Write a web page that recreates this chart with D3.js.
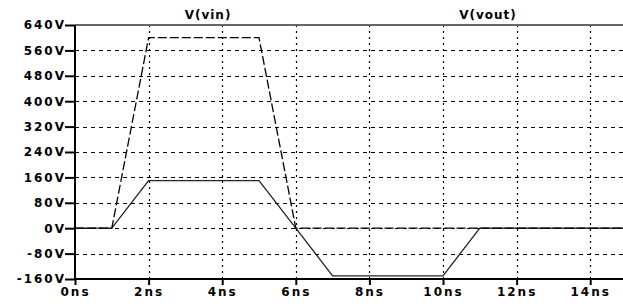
<!DOCTYPE html>
<html>
<head>
<meta charset="utf-8">
<script src="https://cdn.jsdelivr.net/npm/d3@7"></script>
<style>
  body { margin: 0; background: #fff; }
  text { font-family: "DejaVu Sans", sans-serif; font-weight: bold; font-size: 12px; letter-spacing: 2px; fill: #000; }
</style>
</head>
<body>
<div id="chart"></div>
<script>
// waveform samples (ns, V)
const timeNs = [0, 1, 2, 5, 6, 7, 10, 11, 15];
const vin = [0, 0, 600, 600, 0, 0, 0, 0, 0];
const vout = [0, 0, 150, 150, 0, -150, -150, 0, 0];
const yTicks = [640, 560, 480, 400, 320, 240, 160, 80, 0, -80, -160];
const xTicks = [0, 2, 4, 6, 8, 10, 12, 14];
const titles = ["V(vin)", "V(vout)"];

function canvas() {
    const width = 623, height = 304;
    const svg = d3.select("#chart").append("svg")
        .attr("width", width)
        .attr("height", height);

    const xScale = d3.scaleLinear().domain([0, 15]).range([75, 627]);
    const yScale = d3.scaleLinear().domain([-160, 640]).range([279, 25]);
    return { svg, xScale, yScale, width };
}

function drawGrid(svg, xScale, yScale, width) {
    // horizontal dashed grid
    svg.selectAll(".hgrid")
        .data(yTicks.filter(v => v > -160 && v < 640))
        .enter().append("line")
        .attr("x1", xScale(0)).attr("x2", width)
        .attr("y1", d => Math.round(yScale(d)) + 0.5)
        .attr("y2", d => Math.round(yScale(d)) + 0.5)
        .attr("stroke", "#000").attr("stroke-width", 1)
        .attr("stroke-dasharray", "4,4");

    // vertical dotted grid
    svg.selectAll(".vgrid")
        .data(xTicks.filter(t => t > 0))
        .enter().append("line")
        .attr("x1", d => Math.round(xScale(d)) + 0.5)
        .attr("x2", d => Math.round(xScale(d)) + 0.5)
        .attr("y1", yScale(640)).attr("y2", yScale(-160))
        .attr("stroke", "#000").attr("stroke-width", 1.2)
        .attr("stroke-dasharray", "2,4");

    // top border at 640V
    svg.append("line")
        .attr("x1", xScale(0)).attr("x2", width)
        .attr("y1", yScale(640)).attr("y2", yScale(640))
        .attr("stroke", "#666").attr("stroke-width", 2);
}

function drawAxes(svg, xScale, yScale, width) {
    const y0 = yScale(-160);
    const x0 = xScale(0);

    const yAxis = svg.append("g")
        .attr("transform", "translate(" + x0 + ",0)")
        .call(d3.axisLeft(yScale).tickValues(yTicks).tickSize(10).tickPadding(-1)
            .tickFormat(d => d + "V"));
    yAxis.select(".domain").remove();
    yAxis.selectAll(".tick line").attr("stroke-width", 2);

    const xAxis = svg.append("g")
        .attr("transform", "translate(0," + y0 + ")")
        .call(d3.axisBottom(xScale).tickValues(xTicks).tickSize(6).tickPadding(2)
            .tickFormat(d => d + "ns"));
    xAxis.select(".domain").remove();
    xAxis.selectAll(".tick line").attr("stroke-width", 2);

    svg.selectAll(".tick text").style("font-size", "12px");

    svg.append("line")
        .attr("x1", x0).attr("x2", x0)
        .attr("y1", yScale(640)).attr("y2", y0)
        .attr("stroke", "#000").attr("stroke-width", 2);
    svg.append("line")
        .attr("x1", x0 - 1).attr("x2", width)
        .attr("y1", y0).attr("y2", y0)
        .attr("stroke", "#000").attr("stroke-width", 2);
}

function drawTraces(svg, xScale, yScale) {
    const line = d3.line()
        .x((d, i) => xScale(timeNs[i]))
        .y(d => yScale(d));

    svg.append("path").datum(vout)
        .attr("d", line)
        .attr("fill", "none")
        .attr("stroke", "#222").attr("stroke-width", 1.3);

    svg.append("path").datum(vin)
        .attr("d", line)
        .attr("fill", "none")
        .attr("stroke", "#000").attr("stroke-width", 1.3)
        .attr("stroke-dasharray", "9,3");
}

function drawTitles(svg) {
    const pos = [208, 488];
    svg.selectAll(".title")
        .data(titles)
        .enter().append("text")
        .attr("x", (d, i) => pos[i])
        .attr("y", 19)
        .attr("text-anchor", "middle")
        .style("letter-spacing", "1px")
        .text(d => d);
}

function main() {
    const { svg, xScale, yScale, width } = canvas();
    drawGrid(svg, xScale, yScale, width);
    drawTraces(svg, xScale, yScale);
    drawAxes(svg, xScale, yScale, width);
    drawTitles(svg);
}

main();
</script>
</body>
</html>
